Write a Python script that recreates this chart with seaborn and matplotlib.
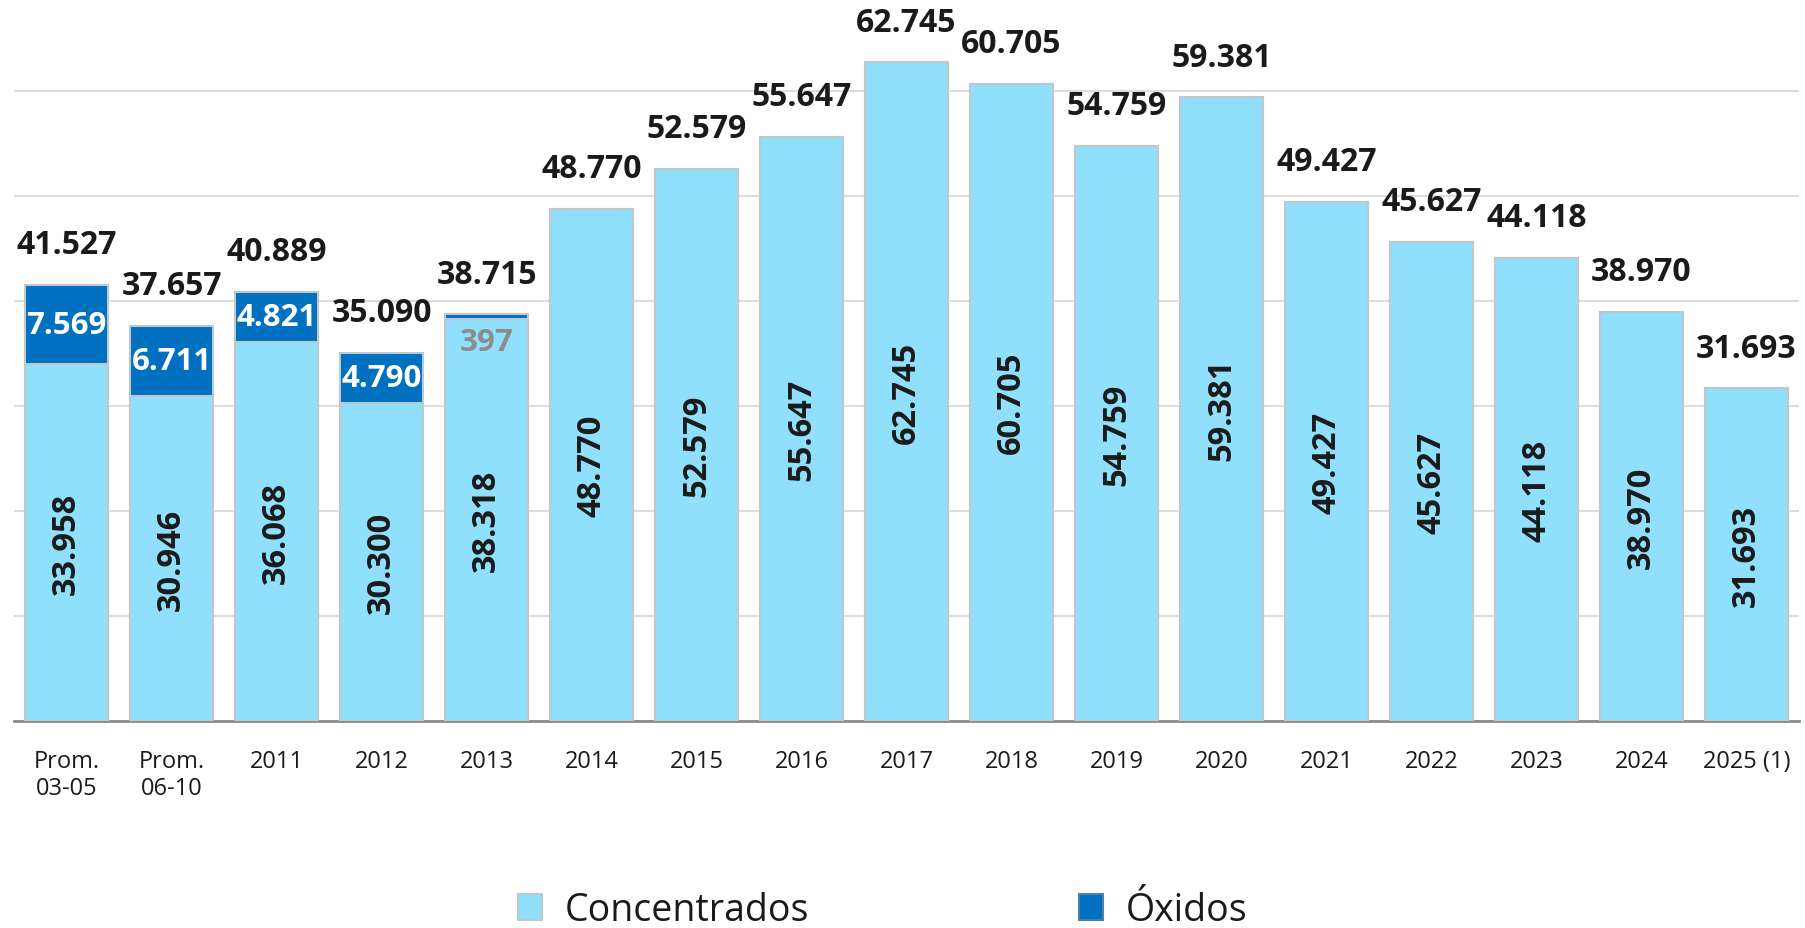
import pandas as pd
import matplotlib.pyplot as plt
import matplotlib.patches as mpatches
from matplotlib.ticker import FixedLocator
import seaborn as sns

# data
categories = ["Prom.\n03-05", "Prom.\n06-10", "2011", "2012", "2013", "2014", "2015",
              "2016", "2017", "2018", "2019", "2020", "2021", "2022", "2023", "2024",
              "2025 (1)"]
concentrados = [33958, 30946, 36068, 30300, 38318, 48770, 52579, 55647, 62745,
                60705, 54759, 59381, 49427, 45627, 44118, 38970, 31693]
oxidos = [7569, 6711, 4821, 4790, 397, 0, 0, 0, 0, 0, 0, 0, 0, 0, 0, 0, 0]
totals = [41527, 37657, 40889, 35090, 38715, 48770, 52579, 55647, 62745,
          60705, 54759, 59381, 49427, 45627, 44118, 38970, 31693]

LIGHT = "#90E0FD"
DARK = "#0070C0"
EDGE = "#BFC7CF"
TXT = "#1A1A1A"

sns.set_style("white")
plt.rcParams['font.family'] = ['Open Sans', 'DejaVu Sans']

df = pd.DataFrame({"cat": categories, "conc": concentrados, "ox": oxidos, "total": totals})

fig = plt.figure(figsize=(18.05, 9.29), dpi=100)
ax = fig.add_axes([0.0078, 0.2228, 0.9889, 0.7772])

# stacked look: total bar in dark, concentrados on top in light
sns.barplot(data=df, x="cat", y="total", color=DARK, saturation=1, width=0.79,
            edgecolor=EDGE, linewidth=1.5, ax=ax, zorder=2)
sns.barplot(data=df, x="cat", y="conc", color=LIGHT, saturation=1, width=0.79,
            edgecolor=EDGE, linewidth=1.5, ax=ax, zorder=3)

ax.set_xlim(-0.5, len(categories) - 0.5)
ax.set_ylim(0, 68760)
ax.set_yticks(range(0, 60001, 10000))
ax.yaxis.grid(True, color="#DDDDDD", linewidth=1.5, zorder=0)
ax.set_axisbelow(True)
ax.tick_params(axis='y', left=False, labelleft=False)
for s in ["top", "right", "left"]:
    ax.spines[s].set_visible(False)
ax.spines["bottom"].set_color("#8C8C8C")
ax.spines["bottom"].set_linewidth(2)
ax.set_xlabel("")
ax.set_ylabel("")

# tick marks sit between categories, labels centred under bars
ax.xaxis.set_minor_locator(FixedLocator([i - 0.5 for i in range(len(categories) + 1)]))
ax.tick_params(axis='x', which='minor', length=8, width=2, color="#8C8C8C", direction='out')
ax.tick_params(axis='x', which='major', length=0, pad=20, labelsize=17, labelcolor=TXT)

for i in range(len(categories)):
    c = concentrados[i]
    o = oxidos[i]
    t = totals[i]
    ax.annotate(f"{t:,}".replace(",", "."), (i, t), xytext=(0, 17), textcoords="offset points",
                ha="center", va="bottom", fontsize=23, fontweight="bold", color=TXT)
    ax.text(i, c / 2, f"{c:,}".replace(",", "."), rotation=90, ha="center", va="center",
            fontsize=23.5, fontweight="bold", color=TXT, zorder=5)
    if o > 1000:
        ax.text(i, c + o / 2, f"{o:,}".replace(",", "."), ha="center", va="center",
                fontsize=22.5, fontweight="bold", color="white", zorder=5)
    elif o > 0:
        ax.annotate(str(o), (i, t), xytext=(0, -20), textcoords="offset points",
                    ha="center", va="center", fontsize=22.5, fontweight="bold",
                    color="#8C8C8C", zorder=5)

handles = [mpatches.Patch(facecolor=LIGHT, edgecolor=EDGE, linewidth=1.5, label="Concentrados"),
           mpatches.Patch(facecolor=DARK, edgecolor="#4D7FA8", linewidth=1.5, label="Óxidos")]
fig.legend(handles=handles, loc="center", bbox_to_anchor=(0.489, 0.019), ncol=2, frameon=False,
           fontsize=27, handlelength=0.65, handleheight=0.7, handletextpad=0.6,
           columnspacing=7.2, labelcolor=TXT)

fig.savefig("out.png", dpi=100)
